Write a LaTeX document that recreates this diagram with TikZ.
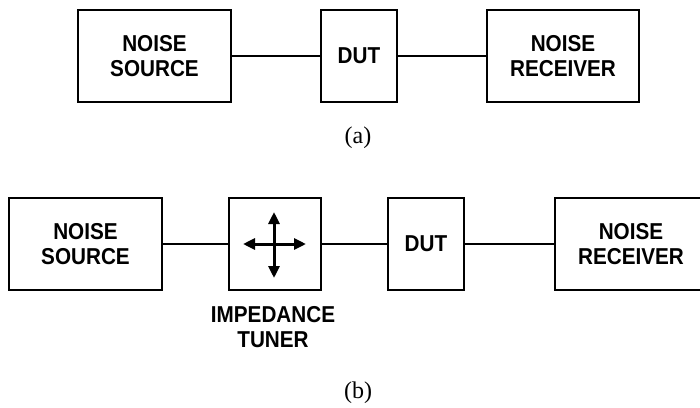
\documentclass[tikz,border=0pt]{standalone}
\usepackage{fontspec}
\setmainfont{Liberation Serif}
\newfontfamily\lblfont[FakeStretch=0.9]{Liberation Sans}
\usetikzlibrary{arrows.meta}
\begin{document}
\begin{tikzpicture}[x=1pt,y=-1pt,
  blk/.style={draw=black,line width=2.2pt,minimum height=92pt,inner sep=0pt,
    align=center,font=\lblfont\bfseries\fontsize{23}{25}\selectfont},
  wire/.style={line width=2.1pt},
  crossarrow/.style={line width=3pt,-{Triangle[length=12pt,width=11pt]}},
  captext/.style={font=\fontsize{24}{26}\selectfont}]
\useasboundingbox (0,0) rectangle (700,407);
% (a)
\node[blk,minimum width=153pt] (srcA) at (154.5,56) {NOISE\\SOURCE};
\node[blk,minimum width=76pt] (dutA) at (359,56) {DUT};
\node[blk,minimum width=152pt] (rcvA) at (563,56) {NOISE\\RECEIVER};
\draw[wire] (srcA) -- (dutA);
\draw[wire] (dutA) -- (rcvA);
\node[captext] (capA) at (358,138) {(a)};
% (b)
\node[blk,minimum width=153pt] (srcB) at (85.5,244) {NOISE\\SOURCE};
\node[blk,minimum width=92pt] (tun) at (275,244) {};
\node[blk,minimum width=76pt] (dutB) at (426,244) {DUT};
\node[blk,minimum width=152pt] (rcvB) at (631,244) {NOISE\\RECEIVER};
\draw[wire] (srcB) -- (tun);
\draw[wire] (tun) -- (dutB);
\draw[wire] (dutB) -- (rcvB);
\coordinate (cc) at (274,244);
\coordinate (cl) at (243,244);
\coordinate (cr) at (306,244);
\coordinate (ct) at (274,212);
\coordinate (cb) at (274,278);
\draw[crossarrow] (cc) -- (cl);
\draw[crossarrow] (cc) -- (cr);
\draw[crossarrow] (cc) -- (ct);
\draw[crossarrow] (cc) -- (cb);
\node[font=\lblfont\bfseries\fontsize{23}{25}\selectfont,align=center] (tunlbl) at (273,327) {IMPEDANCE\\TUNER};
\node[captext] (capB) at (358,393) {(b)};
\end{tikzpicture}
\end{document}
